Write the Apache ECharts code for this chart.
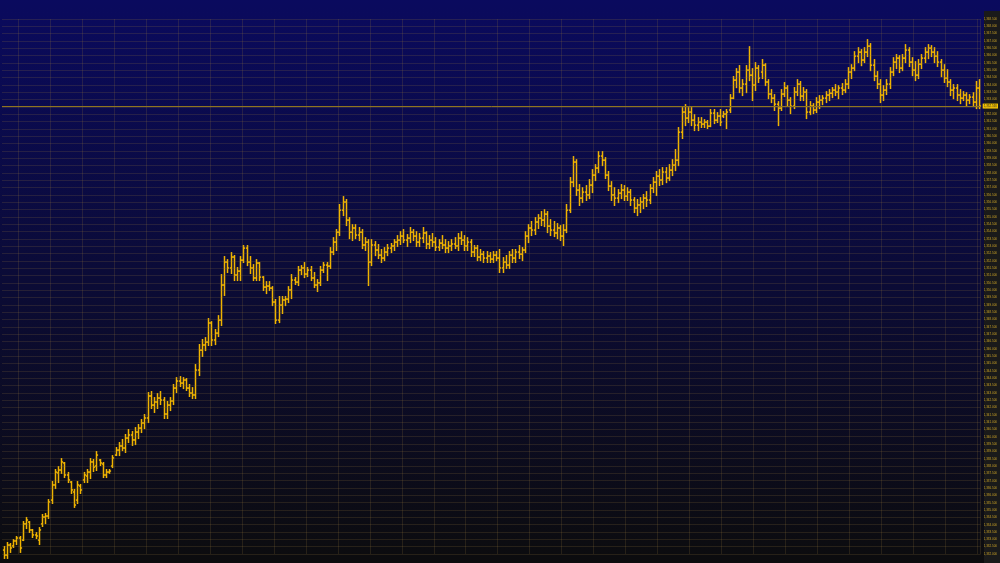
<!DOCTYPE html>
<html>
<head>
<meta charset="utf-8">
<title>OHLC</title>
<script src="https://cdn.jsdelivr.net/npm/echarts@6.0.0/dist/echarts.min.js"></script>
<style>
    html, body { margin: 0; padding: 0; background: #0b0b0d; }
    #chart { width: 1000px; height: 563px; }
</style>
</head>
<body>
<div id="chart"></div>
<script>
// price axis ticks
const priceMin = 1332;
const priceMax = 1368.5;
const priceStep = 0.5;

// one row per bar: open, high, low, close
const bars = [
    [1332.27,1332.48,1331.73,1331.93],[1331.93,1332.75,1331.73,1332.61],[1332.61,1332.68,1332.14,1332.41],[1332.55,1332.95,1332.48,1332.89],
    [1332.89,1333.16,1332.68,1333.09],[1333.09,1333.16,1332.14,1332.41],[1332.95,1334.18,1332.95,1334.05],[1334.05,1334.46,1333.77,1334.32],
    [1334.18,1334.18,1333.50,1333.64],[1333.64,1333.64,1333.16,1333.30],[1333.30,1333.43,1333.09,1333.23],[1332.95,1333.77,1332.68,1333.64],
    [1334.05,1334.66,1333.91,1334.52],[1334.52,1334.73,1334.11,1334.59],[1334.59,1335.68,1334.46,1335.55],[1335.68,1336.91,1335.48,1336.71],
    [1336.71,1337.73,1336.50,1337.59],[1337.53,1337.93,1336.91,1337.73],[1337.73,1338.48,1337.53,1338.28],[1338.21,1338.21,1337.25,1337.39],
    [1337.39,1337.53,1336.91,1337.05],[1336.91,1336.91,1336.16,1336.37],[1336.23,1336.37,1335.21,1335.34],[1335.68,1336.91,1335.48,1336.71],
    [1336.64,1336.71,1336.16,1336.37],[1337.05,1337.53,1336.91,1337.39],[1337.32,1337.73,1336.91,1337.59],[1337.59,1338.48,1337.18,1338.28],
    [1338.28,1338.41,1337.66,1337.93],[1338.00,1338.96,1337.73,1338.75],[1338.41,1338.41,1338.07,1338.21],[1338.14,1338.21,1337.25,1337.39],
    [1337.39,1337.73,1337.25,1337.59],[1337.59,1337.73,1337.53,1337.66],[1338.00,1338.68,1337.93,1338.55],[1338.75,1339.23,1338.75,1339.09],
    [1339.09,1339.57,1338.75,1339.37],[1339.37,1339.78,1339.09,1339.23],[1339.23,1340.12,1338.96,1339.91],[1339.91,1340.46,1339.64,1340.12],
    [1340.12,1340.32,1339.44,1339.78],[1339.78,1340.59,1339.50,1340.32],[1340.32,1340.80,1339.91,1340.59],[1340.59,1341.14,1340.32,1340.94],
    [1340.94,1341.48,1340.59,1341.28],[1341.28,1342.98,1341.00,1342.78],[1342.78,1343.05,1341.96,1342.16],[1342.16,1342.64,1341.69,1342.37],
    [1342.37,1342.91,1341.96,1342.64],[1342.64,1343.05,1342.23,1342.50],[1342.50,1342.64,1341.28,1341.55],[1341.55,1342.37,1341.28,1342.16],
    [1342.16,1342.64,1341.82,1342.44],[1342.44,1343.53,1342.23,1343.32],[1343.32,1344.00,1343.05,1343.80],[1343.80,1344.07,1343.46,1343.66],
    [1343.66,1344.00,1343.32,1343.87],[1343.87,1343.94,1343.19,1343.32],[1343.32,1343.53,1342.78,1342.98],[1342.98,1343.32,1342.64,1342.85],
    [1342.85,1344.89,1342.64,1344.55],[1344.55,1346.26,1344.21,1345.91],[1345.91,1346.60,1345.51,1346.26],[1346.26,1346.73,1345.91,1346.46],
    [1346.46,1348.03,1346.26,1347.76],[1347.76,1347.82,1346.26,1346.60],[1346.60,1347.28,1346.32,1347.07],[1347.07,1348.23,1346.87,1347.96],
    [1347.96,1351.03,1347.62,1350.35],[1350.35,1352.26,1349.67,1351.92],[1351.92,1352.05,1351.24,1351.51],[1351.51,1352.53,1351.17,1352.26],
    [1352.26,1352.33,1350.69,1351.03],[1351.03,1351.51,1350.69,1351.30],[1351.30,1352.26,1350.69,1352.05],[1352.05,1353.01,1351.92,1352.87],
    [1352.87,1353.01,1351.71,1351.92],[1351.92,1352.26,1351.17,1351.51],[1351.51,1351.71,1350.69,1350.83],[1350.83,1352.05,1350.69,1351.85],
    [1351.85,1351.85,1350.69,1350.89],[1350.89,1350.89,1350.01,1350.21],[1350.21,1350.55,1349.80,1350.28],[1350.28,1350.55,1350.01,1350.14],
    [1350.14,1350.21,1348.98,1349.19],[1349.19,1349.33,1347.76,1347.96],[1347.96,1349.53,1347.82,1348.98],[1348.98,1349.53,1348.44,1349.33],
    [1349.33,1349.53,1348.98,1349.39],[1349.39,1350.21,1349.19,1350.01],[1350.01,1351.03,1349.46,1350.69],[1350.69,1350.83,1350.42,1350.55],
    [1350.55,1351.58,1350.35,1351.37],[1351.37,1351.64,1351.10,1351.51],[1351.51,1351.85,1350.89,1351.10],[1351.10,1351.51,1350.96,1351.37],
    [1351.37,1351.58,1350.69,1350.83],[1350.83,1351.17,1350.21,1350.35],[1350.35,1350.69,1349.94,1350.49],[1350.49,1351.58,1350.35,1351.37],
    [1351.37,1351.85,1351.24,1351.71],[1351.71,1351.85,1350.69,1351.64],[1351.64,1352.87,1351.51,1352.60],[1352.60,1353.55,1352.46,1353.28],
    [1353.28,1354.10,1352.74,1353.96],[1353.96,1355.81,1353.76,1355.46],[1355.46,1356.35,1355.12,1356.01],[1356.01,1356.15,1354.44,1354.78],
    [1354.78,1354.92,1353.55,1353.96],[1353.96,1354.44,1353.42,1354.24],[1354.24,1354.44,1353.55,1353.76],[1353.76,1354.24,1353.42,1353.96],
    [1353.96,1354.10,1352.87,1353.08],[1353.08,1353.55,1352.74,1353.28],[1353.28,1353.42,1350.35,1351.92],[1351.92,1353.42,1351.71,1353.08],
    [1353.08,1353.28,1352.39,1352.74],[1352.74,1353.08,1352.19,1352.39],[1352.39,1352.74,1351.92,1352.19],[1352.19,1352.87,1352.05,1352.60],
    [1352.60,1353.08,1352.39,1352.87],[1352.87,1353.15,1352.60,1353.01],[1353.01,1353.42,1352.74,1353.28],[1353.28,1353.69,1353.01,1353.42],
    [1353.42,1353.96,1353.15,1353.69],[1353.69,1354.10,1353.28,1353.42],[1353.42,1353.76,1353.01,1353.55],[1353.55,1354.24,1353.28,1353.96],
    [1353.96,1354.10,1353.42,1353.69],[1353.69,1353.96,1353.01,1353.28],[1353.28,1353.83,1353.01,1353.55],[1353.55,1354.24,1353.28,1353.90],
    [1353.90,1353.96,1352.87,1353.15],[1353.15,1353.69,1352.87,1353.42],[1353.42,1353.83,1353.01,1353.28],[1353.28,1353.55,1352.74,1352.94],
    [1352.94,1353.42,1352.74,1353.21],[1353.21,1353.69,1352.87,1353.08],[1353.08,1353.42,1352.60,1352.87],[1352.87,1353.28,1352.60,1353.01],
    [1353.01,1353.42,1352.74,1353.15],[1353.15,1353.55,1352.87,1353.01],[1353.01,1353.83,1352.74,1353.55],[1353.55,1353.96,1353.15,1353.42],
    [1353.42,1353.69,1352.74,1353.01],[1353.01,1353.55,1352.74,1353.28],[1353.28,1353.42,1352.33,1352.60],[1352.60,1353.01,1352.33,1352.87],
    [1352.87,1353.01,1352.05,1352.26],[1352.26,1352.74,1352.05,1352.46],[1352.46,1352.60,1351.92,1352.19],[1352.19,1352.60,1351.92,1352.33],
    [1352.33,1352.53,1351.92,1352.12],[1352.12,1352.60,1351.92,1352.39],[1352.39,1352.60,1352.05,1352.19],[1352.19,1352.74,1351.24,1351.51],
    [1351.51,1352.19,1351.24,1351.92],[1351.92,1352.33,1351.51,1351.71],[1351.71,1352.60,1351.51,1352.39],[1352.39,1352.74,1351.92,1352.19],
    [1352.19,1352.74,1351.92,1352.60],[1352.60,1353.01,1352.19,1352.46],[1352.46,1352.87,1352.05,1352.74],[1352.74,1353.96,1352.60,1353.69],
    [1353.69,1354.44,1353.28,1354.24],[1354.24,1354.65,1353.76,1354.10],[1354.10,1354.92,1353.83,1354.65],[1354.65,1355.12,1354.24,1354.92],
    [1354.92,1355.33,1354.44,1354.78],[1354.78,1355.46,1354.37,1355.19],[1355.19,1355.33,1353.96,1354.37],[1354.37,1354.78,1353.76,1354.10],
    [1354.10,1354.65,1353.69,1353.90],[1353.90,1354.51,1353.55,1354.24],[1354.24,1354.37,1353.42,1353.69],[1353.69,1354.44,1353.08,1354.10],
    [1354.10,1355.81,1353.96,1355.46],[1355.46,1357.65,1355.33,1357.37],[1357.37,1359.08,1357.10,1358.74],[1358.74,1358.87,1356.49,1356.83],
    [1356.83,1357.17,1355.81,1356.28],[1356.28,1356.96,1356.01,1356.69],[1356.69,1357.10,1356.15,1356.49],[1356.49,1357.51,1356.28,1357.17],
    [1357.17,1358.19,1356.69,1357.85],[1357.85,1358.53,1357.51,1358.33],[1358.33,1359.42,1358.06,1359.15],[1359.15,1359.42,1358.53,1358.87],
    [1358.87,1359.01,1357.65,1357.85],[1357.85,1358.06,1356.83,1357.10],[1357.10,1357.37,1356.15,1356.49],[1356.49,1356.96,1355.81,1356.28],
    [1356.28,1356.83,1356.01,1356.62],[1356.62,1357.17,1356.28,1356.83],[1356.83,1357.10,1356.15,1356.42],[1356.42,1356.96,1356.15,1356.69],
    [1356.69,1356.83,1355.81,1356.15],[1356.15,1356.28,1355.33,1355.60],[1355.60,1356.15,1355.12,1355.81],[1355.81,1356.28,1355.33,1356.01],
    [1356.01,1356.49,1355.60,1356.28],[1356.28,1356.69,1355.74,1356.15],[1356.15,1357.17,1355.94,1356.96],[1356.96,1357.65,1356.69,1357.37],
    [1357.37,1358.06,1356.49,1357.78],[1357.78,1358.19,1357.17,1357.51],[1357.51,1358.33,1357.24,1358.06],[1358.06,1358.33,1357.37,1357.65],
    [1357.65,1358.53,1357.51,1358.19],[1358.19,1358.87,1357.85,1358.53],[1358.53,1359.56,1358.19,1358.87],[1358.87,1361.06,1358.53,1360.78],
    [1360.78,1362.42,1360.38,1362.15],[1362.15,1362.63,1361.26,1361.74],[1361.74,1362.42,1361.47,1362.15],[1362.15,1362.42,1361.26,1361.60],
    [1361.60,1361.94,1360.92,1361.26],[1361.26,1361.74,1360.92,1361.47],[1361.47,1361.74,1361.13,1361.33],[1361.33,1361.60,1361.13,1361.47],
    [1361.47,1361.54,1361.06,1361.19],[1361.19,1362.29,1361.19,1362.08],[1362.08,1362.29,1361.40,1361.60],[1361.60,1362.08,1361.47,1361.88],
    [1361.88,1362.29,1361.26,1361.47],[1361.88,1362.15,1361.81,1362.01],[1362.01,1362.29,1361.06,1362.15],[1362.29,1363.31,1362.15,1363.10],
    [1363.10,1364.54,1363.10,1364.33],[1364.33,1365.08,1363.85,1364.88],[1364.88,1365.29,1363.51,1363.79],[1363.79,1364.33,1363.31,1364.06],
    [1364.06,1365.29,1363.51,1365.01],[1365.01,1366.58,1364.33,1364.67],[1364.67,1365.08,1362.97,1363.99],[1363.99,1365.49,1363.65,1365.15],
    [1365.15,1365.29,1364.20,1364.47],[1364.88,1365.70,1364.47,1365.35],[1365.35,1365.42,1363.99,1364.20],[1364.20,1364.33,1363.10,1363.38],
    [1363.38,1363.65,1362.83,1363.10],[1363.10,1363.31,1362.29,1362.69],[1362.69,1362.83,1361.26,1362.42],[1362.42,1363.65,1362.29,1363.38],
    [1363.38,1364.13,1363.24,1363.79],[1363.79,1363.92,1362.63,1362.97],[1362.97,1363.10,1362.08,1362.56],[1362.56,1363.79,1362.42,1363.51],
    [1363.51,1364.33,1363.31,1364.06],[1364.06,1364.20,1362.97,1363.24],[1363.24,1363.79,1362.97,1363.51],[1363.51,1363.65,1361.74,1362.15],
    [1362.15,1362.83,1362.01,1362.56],[1362.56,1362.69,1362.08,1362.29],[1362.29,1363.10,1362.15,1362.83],[1362.83,1363.24,1362.42,1362.97],
    [1362.97,1363.24,1362.69,1363.10],[1363.10,1363.51,1362.83,1363.31],[1363.31,1363.65,1362.97,1363.44],[1363.44,1363.79,1363.17,1363.65],
    [1363.65,1363.99,1363.31,1363.51],[1363.51,1363.92,1363.10,1363.79],[1363.79,1364.06,1363.38,1363.65],[1363.65,1364.33,1363.51,1364.06],
    [1364.06,1365.15,1363.79,1364.88],[1364.88,1365.35,1364.47,1365.15],[1365.15,1366.24,1365.01,1365.97],[1365.97,1366.51,1365.56,1366.24],
    [1366.24,1366.38,1365.35,1365.70],[1365.70,1366.51,1365.56,1366.24],[1366.24,1367.06,1365.97,1366.65],[1366.65,1366.79,1365.01,1365.35],
    [1365.35,1365.70,1364.33,1364.60],[1364.60,1364.88,1363.79,1364.06],[1364.06,1364.33,1362.83,1363.31],[1363.31,1363.92,1362.97,1363.65],
    [1363.65,1364.33,1363.38,1364.06],[1364.06,1365.15,1363.79,1364.88],[1364.88,1365.83,1364.67,1365.56],[1365.56,1366.04,1365.15,1365.83],
    [1365.83,1365.97,1364.88,1365.15],[1365.15,1366.04,1365.01,1365.83],[1365.83,1366.72,1365.56,1366.38],[1366.38,1366.51,1365.29,1365.56],
    [1365.56,1365.83,1364.67,1365.01],[1365.01,1365.56,1364.33,1364.67],[1364.67,1365.70,1364.47,1365.42],[1365.42,1366.04,1365.15,1365.83],
    [1365.83,1366.51,1365.56,1366.24],[1366.24,1366.72,1365.83,1366.51],[1366.51,1366.65,1365.97,1366.24],[1366.24,1366.51,1365.56,1365.97],
    [1365.97,1366.24,1365.29,1365.56],[1365.56,1365.70,1364.60,1365.01],[1365.01,1365.35,1364.20,1364.47],[1364.47,1365.01,1363.92,1364.20],
    [1364.20,1364.33,1363.31,1363.65],[1363.65,1363.99,1363.10,1363.79],[1363.79,1363.99,1362.97,1363.31],[1363.31,1363.65,1362.76,1363.10],
    [1363.10,1363.51,1362.97,1363.31],[1363.31,1363.44,1362.63,1362.97],[1362.97,1363.31,1362.76,1363.17],[1363.17,1363.44,1362.56,1362.83],
    [1362.83,1364.20,1362.42,1363.79],[1363.79,1364.33,1362.42,1362.56]
];

const barColor = '#f0b400';
const gridColor = 'rgba(150, 120, 60, 0.2)';
const lastClose = bars[bars.length - 1][3];

function fmtPrice(v) {
    return Number(v).toLocaleString('en-US', { minimumFractionDigits: 3, maximumFractionDigits: 3 });
}

// OHLC bar: vertical high-low, open tick left, close tick right
function renderBar(params, api) {
    const i = api.value(0);
    const hi = api.coord([i, api.value(2)]);
    const lo = api.coord([i, api.value(3)]);
    const op = api.coord([i, api.value(1)]);
    const cl = api.coord([i, api.value(4)]);
    const half = api.size([1, 0])[0] * 0.5;
    const x = Math.round(hi[0]) + 0.5;
    const style = { stroke: barColor, lineWidth: 1.5 };
    return {
        type: 'group',
        children: [
            { type: 'line', shape: { x1: x, y1: hi[1] - 1, x2: x, y2: lo[1] + 1 }, style: style },
            { type: 'line', shape: { x1: x - half, y1: op[1], x2: x, y2: op[1] }, style: style },
            { type: 'line', shape: { x1: x, y1: cl[1], x2: x + half, y2: cl[1] }, style: style }
        ]
    };
}

const options = {
    animation: false,
    backgroundColor: new echarts.graphic.LinearGradient(0, 0, 0, 1, [
        { offset: 0, color: '#0a0a5e' },
        { offset: 1, color: '#0c0c0e' }
    ]),
    grid: { left: 2, right: 16, top: 19, bottom: 9 },
    graphic: [{
        type: 'rect',
        left: 984,
        top: 11,
        z: 1,
        silent: true,
        shape: { width: 16, height: 552 },
        style: { fill: '#1a1a1a' }
    }],
    xAxis: {
        type: 'category',
        data: bars.map((b, i) => i),
        boundaryGap: true,
        axisLine: { show: false },
        axisTick: { show: false },
        axisLabel: { show: false },
        splitLine: {
            show: true,
            interval: (index) => index % 10 === 5,
            lineStyle: { color: gridColor, width: 1 }
        }
    },
    yAxis: {
        type: 'value',
        position: 'right',
        z: 10,
        min: priceMin,
        max: priceMax,
        interval: priceStep,
        axisLine: { show: false },
        axisTick: { show: false },
        axisLabel: {
            margin: 3,
            fontSize: 3,
            color: '#c9a227',
            fontFamily: 'Liberation Sans',
            formatter: fmtPrice
        },
        splitLine: { lineStyle: { color: gridColor, width: 1 } }
    },
    series: [{
        type: 'custom',
        renderItem: renderBar,
        clip: false,
        encode: { x: 0, y: [1, 2, 3, 4] },
        data: bars.map((b, i) => [i, b[0], b[1], b[2], b[3]]),
        markLine: {
            silent: true,
            symbol: ['none', 'none'],
            lineStyle: { color: '#8f7420', width: 1, type: 'solid' },
            label: {
                position: 'end',
                distance: 2,
                fontSize: 3,
                color: '#111',
                backgroundColor: '#f2c200',
                padding: [1, 1, 1, 1],
                fontFamily: 'Liberation Sans',
                formatter: (p) => fmtPrice(p.value)
            },
            data: [{ yAxis: lastClose }]
        }
    }]
};

const E = echarts.init(document.getElementById('chart'));
window.onresize = function () {
    E.resize();
};
E.setOption(options);
</script>
</body>
</html>
